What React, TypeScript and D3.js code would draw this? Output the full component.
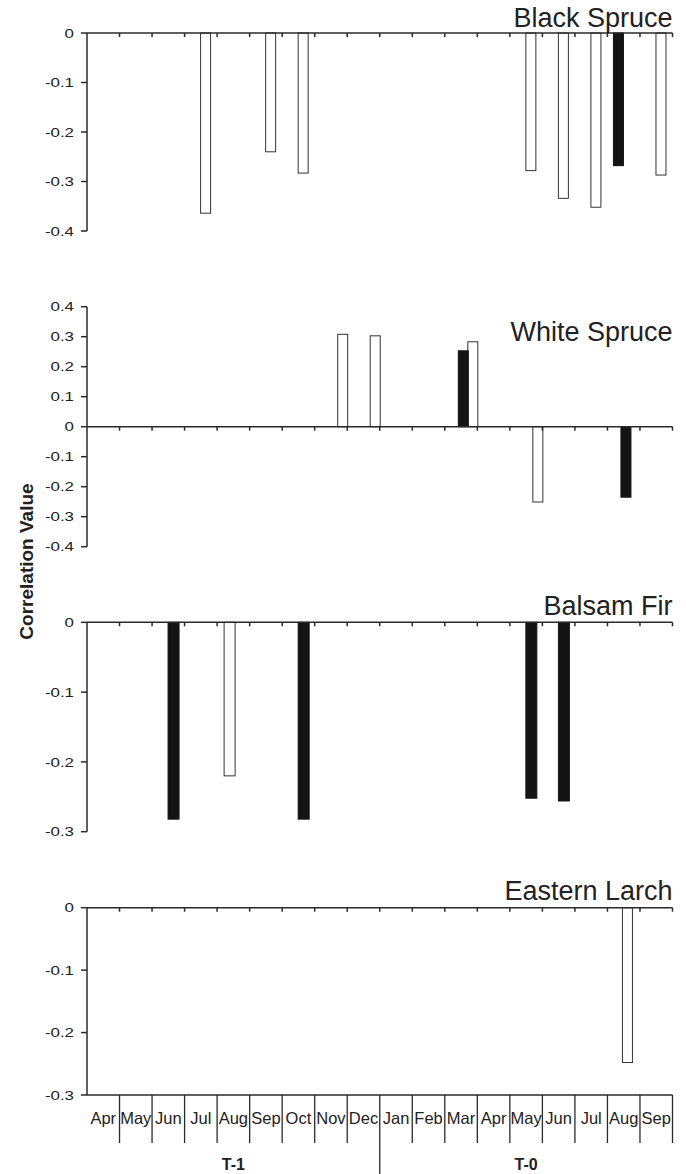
import React from 'react';
import * as d3 from 'd3';

// months, T-1 (Apr..Dec) then T-0 (Jan..Sep)
const monthLabels = ['Apr', 'May', 'Jun', 'Jul', 'Aug', 'Sep', 'Oct', 'Nov', 'Dec',
    'Jan', 'Feb', 'Mar', 'Apr', 'May', 'Jun', 'Jul', 'Aug', 'Sep'];
const monthKeys = monthLabels.map((m, i) => (i < 9 ? 'T1-' : 'T0-') + m);
const periods = [{ label: 'T-1', from: 0, to: 9 }, { label: 'T-0', from: 9, to: 18 }];

const N = null;
const blackSpruceOpen = [N, N, N, -0.364, N, -0.24, -0.283, N, N, N, N, N, N, -0.278, -0.334, -0.352, N, -0.287];
const blackSpruceFilled = [N, N, N, N, N, N, N, N, N, N, N, N, N, N, N, N, -0.268, N];
const whiteSpruceOpen = [N, N, N, N, N, N, N, 0.308, 0.303, N, N, 0.283, N, -0.251, N, N, N, N];
const whiteSpruceFilled = [N, N, N, N, N, N, N, N, N, N, N, 0.253, N, N, N, N, -0.235, N];
const balsamFirOpen = [N, N, N, N, -0.22, N, N, N, N, N, N, N, N, N, N, N, N, N];
const balsamFirFilled = [N, N, -0.282, N, N, N, -0.282, N, N, N, N, N, N, -0.252, -0.256, N, N, N];
const larchOpen = [N, N, N, N, N, N, N, N, N, N, N, N, N, N, N, N, -0.248, N];
const larchFilled: (number | null)[] = monthKeys.map(() => null);

const blackSpruceTicks = [0, -0.1, -0.2, -0.3, -0.4];
const whiteSpruceTicks = [0.4, 0.3, 0.2, 0.1, 0, -0.1, -0.2, -0.3, -0.4];
const balsamFirTicks = [0, -0.1, -0.2, -0.3];
const larchTicks = [0, -0.1, -0.2, -0.3];

const panels = [
    { name: 'Black Spruce', open: blackSpruceOpen, filled: blackSpruceFilled, ticks: blackSpruceTicks,
      top: 33, bottom: 231, titleY: 27, openOff: 16, filledOff: 6, barW: 10 },
    { name: 'White Spruce', open: whiteSpruceOpen, filled: whiteSpruceFilled, ticks: whiteSpruceTicks,
      top: 306.7, bottom: 546.7, titleY: 341, openOff: 23, filledOff: 13.5, barW: 10 },
    { name: 'Balsam Fir', open: balsamFirOpen, filled: balsamFirFilled, ticks: balsamFirTicks,
      top: 622.3, bottom: 831.7, titleY: 615, openOff: 7, filledOff: 16, barW: 11 },
    { name: 'Eastern Larch', open: larchOpen, filled: larchFilled, ticks: larchTicks,
      top: 907.7, bottom: 1095, titleY: 900, openOff: 15, filledOff: 6, barW: 10 },
];

const W = 686, H = 1174;
const left = 87, right = 672.5;
const ink = '#2a2a2a';
const font = 'Liberation Sans, Arial, Helvetica, sans-serif';

const fmt = (v: number) => (v === 0 ? '0' : String(+v.toFixed(1)));

const App: React.FC = () => {
    const x = d3.scaleBand<string>().domain(monthKeys).range([left, right]).padding(0);
    const bw = x.bandwidth();
    const bounds = monthKeys.map(k => x(k)!).concat([right]);
    const last = panels[panels.length - 1];

    return (
        <div style={{ position: 'absolute', left: 0, top: 0 }}>
            <svg width={W} height={H} style={{ display: 'block', background: '#fff' }} fontFamily={font}>
                {panels.map(p => {
                    const lo = Math.min(...p.ticks), hi = Math.max(...p.ticks);
                    const y = d3.scaleLinear().domain([lo, hi]).range([p.bottom, p.top]);
                    const y0 = y(0);
                    const bars = (vals: (number | null)[], off: number, filled: boolean) =>
                        vals.map((v, i) => v == null ? null : (
                            <rect key={(filled ? 'f' : 'o') + i}
                                x={x(monthKeys[i])! + off} width={p.barW}
                                y={Math.min(y(v), y0)} height={Math.abs(y(v) - y0)}
                                fill={filled ? '#141414' : '#fff'}
                                stroke={filled ? '#141414' : '#333'} strokeWidth={1} />
                        ));
                    return (
                        <g key={p.name}>
                            {bars(p.open, p.openOff, false)}
                            {bars(p.filled, p.filledOff, true)}
                            {/* y axis */}
                            <line x1={left} x2={left} y1={y(hi)} y2={y(lo)} stroke={ink} strokeWidth={1.5} />
                            {p.ticks.map(t => (
                                <g key={t} transform={`translate(0,${y(t)})`}>
                                    <line x1={left - 6} x2={left} stroke={ink} strokeWidth={1.5} />
                                    <text x={0} y={4.6} textAnchor="end" fontSize={13} fill="#222"
                                        transform={`translate(${left - 13},0) scale(1.3,1)`}>{fmt(t)}</text>
                                </g>
                            ))}
                            {/* zero line with month ticks */}
                            <line x1={left} x2={right} y1={y0} y2={y0} stroke={ink} strokeWidth={1.5} />
                            {bounds.slice(1).map((bx, i) => (
                                <line key={i} x1={bx} x2={bx} y1={y0} y2={y0 + 4} stroke={ink} strokeWidth={1.5} />
                            ))}
                            <text x={right} y={p.titleY} textAnchor="end" fontSize={27} fill="#222">{p.name}</text>
                        </g>
                    );
                })}

                {/* month table under last panel */}
                <line x1={left} x2={right} y1={last.bottom} y2={last.bottom} stroke={ink} strokeWidth={1.5} />
                {bounds.slice(1).map((bx, i) => (
                    <line key={'s' + i} x1={bx} x2={bx} y1={last.bottom}
                        y2={i + 1 === 9 ? 1174 : 1143} stroke={ink} strokeWidth={1.3} />
                ))}
                {monthKeys.map((k, i) => (
                    <text key={k} x={x(k)! + bw / 2} y={1124} textAnchor="middle" fontSize={16.5}
                        fill="#222">{monthLabels[i]}</text>
                ))}
                {periods.map(pr => (
                    <text key={pr.label} x={(bounds[pr.from] + bounds[pr.to]) / 2} y={1170}
                        textAnchor="middle" fontSize={16} fontWeight="bold" fill="#222">{pr.label}</text>
                ))}

                <text transform="translate(33,561.5) rotate(-90)" textAnchor="middle" fontSize={19}
                    fontWeight="bold" fill="#222">Correlation Value</text>
            </svg>
        </div>
    );
};

export default App;
